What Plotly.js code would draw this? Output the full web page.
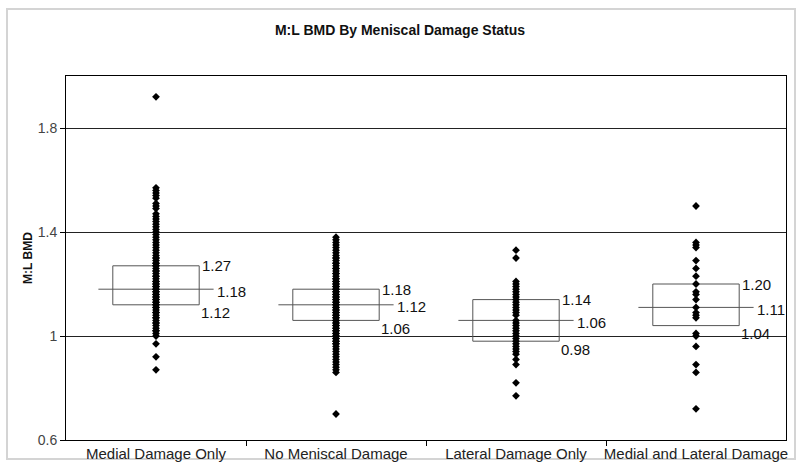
<!DOCTYPE html>
<html>
<head>
<meta charset="utf-8">
<script src="https://cdn.plot.ly/plotly-3.0.1.min.js"></script>
<style>
  html, body { margin: 0; padding: 0; background: #fff; }
  #frame { position: absolute; left: 6px; top: 8px; width: 786px; height: 448px; border: 2px solid #d4d4d4; }
  #chart { position: absolute; left: 0; top: 0; width: 800px; height: 466px; }
</style>
</head>
<body>
<div id="frame"></div>
<div id="chart"></div>
<script>
// ---------- Data ----------
const categories = ['Medial Damage Only', 'No Meniscal Damage', 'Lateral Damage Only', 'Medial and Lateral Damage'];

const medialOnly = [
  1.92, 1.57, 1.56, 1.55, 1.54, 1.53, 1.51, 1.50, 1.49, 1.47, 1.46, 1.45, 1.44, 1.43,
  1.42, 1.41, 1.40, 1.39, 1.38, 1.37, 1.36, 1.35, 1.34, 1.33, 1.32, 1.31, 1.30, 1.30,
  1.29, 1.28, 1.28, 1.27, 1.27, 1.26, 1.25, 1.25, 1.24, 1.23, 1.23, 1.22, 1.21, 1.21,
  1.20, 1.20, 1.19, 1.19, 1.18, 1.18, 1.17, 1.17, 1.16, 1.16, 1.15, 1.15, 1.14, 1.14,
  1.13, 1.13, 1.12, 1.12, 1.11, 1.11, 1.10, 1.09, 1.09, 1.08, 1.07, 1.07, 1.06, 1.05,
  1.05, 1.04, 1.03, 1.02, 1.02, 1.01, 1.00, 0.97, 0.92, 0.87
];

const noDamage = [
  1.38, 1.37, 1.36, 1.35, 1.34, 1.33, 1.32, 1.31, 1.30, 1.30, 1.29, 1.28, 1.28, 1.27,
  1.26, 1.26, 1.25, 1.24, 1.24, 1.23, 1.22, 1.22, 1.21, 1.21, 1.20, 1.20, 1.19, 1.19,
  1.18, 1.18, 1.17, 1.17, 1.16, 1.16, 1.15, 1.15, 1.14, 1.14, 1.13, 1.13, 1.12, 1.12,
  1.11, 1.11, 1.10, 1.10, 1.09, 1.09, 1.08, 1.08, 1.07, 1.07, 1.06, 1.06, 1.05, 1.05,
  1.04, 1.04, 1.03, 1.03, 1.02, 1.02, 1.01, 1.01, 1.00, 1.00, 0.99, 0.99, 0.98, 0.98,
  0.97, 0.97, 0.96, 0.95, 0.94, 0.93, 0.92, 0.91, 0.90, 0.89, 0.88, 0.87, 0.86, 0.70
];

const lateralOnly = [
  1.33, 1.30, 1.21, 1.20, 1.19, 1.18, 1.17, 1.16, 1.15, 1.14, 1.13, 1.12, 1.11, 1.10,
  1.09, 1.08, 1.06, 1.05, 1.04, 1.03, 1.02, 1.01, 1.00, 0.99, 0.98, 0.97, 0.96, 0.95,
  0.94, 0.93, 0.91, 0.89, 0.82, 0.77
];

const bothDamage = [
  1.50, 1.36, 1.35, 1.34, 1.29, 1.26, 1.23, 1.20, 1.17, 1.16, 1.14, 1.11, 1.09, 1.08,
  1.07, 1.01, 1.00, 0.96, 0.89, 0.86, 0.72
];

const q1Vals = [1.12, 1.06, 0.98, 1.04];
const medianVals = [1.18, 1.12, 1.06, 1.11];
const q3Vals = [1.27, 1.18, 1.14, 1.20];

const groups = [medialOnly, noDamage, lateralOnly, bothDamage];

// ---------- Traces ----------
const BOX_HALF = 0.24;   // box half width in category units
const MED_HALF = 0.32;   // median line half width
const traces = [];

categories.forEach((cat, i) => {
  traces.push({
    x: [i - BOX_HALF, i + BOX_HALF, i + BOX_HALF, i - BOX_HALF, i - BOX_HALF],
    y: [q3Vals[i], q3Vals[i], q1Vals[i], q1Vals[i], q3Vals[i]],
    mode: 'lines', line: { color: '#555', width: 1 },
    hoverinfo: 'skip', showlegend: false
  });
  traces.push({
    x: [i - MED_HALF, i + MED_HALF],
    y: [medianVals[i], medianVals[i]],
    mode: 'lines', line: { color: '#555', width: 1 },
    hoverinfo: 'skip', showlegend: false
  });
});

groups.forEach((vals, i) => {
  traces.push({
    x: vals.map(() => i),
    y: vals,
    type: 'scatter', mode: 'markers',
    marker: { symbol: 'diamond', size: 6, color: '#000' },
    name: categories[i], showlegend: false
  });
});

// ---------- Value labels ----------
const annotations = [];
const labelFont = { family: 'Liberation Sans, Arial, sans-serif', size: 15, color: '#111' };
categories.forEach((cat, i) => {
  annotations.push({ x: i + BOX_HALF, y: q3Vals[i], text: q3Vals[i].toFixed(2), showarrow: false,
    xanchor: 'left', yanchor: 'middle', xshift: 1, font: labelFont });
  annotations.push({ x: i + MED_HALF, y: medianVals[i], text: medianVals[i].toFixed(2), showarrow: false,
    xanchor: 'left', yanchor: 'middle', xshift: 1, yshift: -2, font: labelFont });
  annotations.push({ x: i + BOX_HALF, y: q1Vals[i], text: q1Vals[i].toFixed(2), showarrow: false,
    xanchor: 'left', yanchor: 'middle', xshift: 0, yshift: -8, font: labelFont });
});

const layout = {
  width: 800, height: 466,
  paper_bgcolor: 'rgba(0,0,0,0)', plot_bgcolor: '#fff',
  margin: { l: 66, r: 14, t: 76, b: 26 },
  font: { family: 'Liberation Sans, Arial, sans-serif', color: '#222' },
  title: {
    text: '<b>M:L BMD By Meniscal Damage Status</b>',
    font: { size: 14, color: '#111' },
    x: 0.5, xanchor: 'center', y: 0.935, yanchor: 'middle', yref: 'container'
  },
  xaxis: {
    range: [-0.5, 3.5],
    tickvals: [0, 1, 2, 3], ticktext: categories,
    tickfont: { size: 15, color: '#222' },
    ticks: '', showgrid: false, zeroline: false,
    showline: true, linecolor: '#000', linewidth: 1, mirror: true,
    minor: { tickvals: [0.5, 1.5, 2.5], ticks: 'outside', ticklen: 5, tickcolor: '#000', showgrid: false },
    fixedrange: true
  },
  yaxis: {
    range: [0.6, 2.0],
    tickvals: [0.6, 1.0, 1.4, 1.8], ticktext: ['0.6', '1', '1.4', '1.8'],
    tickfont: { size: 14, color: '#444' },
    ticks: 'outside', ticklen: 5, tickcolor: '#000',
    showgrid: true, gridcolor: '#222', gridwidth: 1, zeroline: false,
    showline: true, linecolor: '#000', linewidth: 1, mirror: true,
    title: { text: '<b>M:L BMD</b>', font: { size: 12, color: '#111' }, standoff: 2 },
    fixedrange: true
  },
  annotations: annotations,
  showlegend: false
};

Plotly.newPlot('chart', traces, layout, { displayModeBar: false, staticPlot: true });
</script>
</body>
</html>
